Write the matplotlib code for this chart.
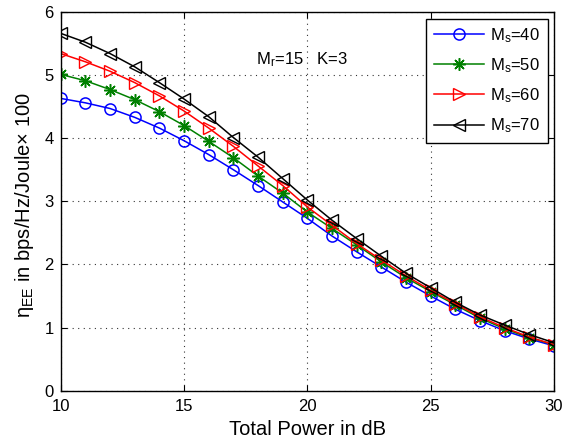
import matplotlib
matplotlib.use("Agg")
import matplotlib.pyplot as plt

plt.rcParams['font.family'] = ['Liberation Sans', 'DejaVu Sans']
plt.rcParams['mathtext.fontset'] = 'custom'
plt.rcParams['mathtext.rm'] = 'Liberation Sans'
plt.rcParams['mathtext.it'] = 'Liberation Sans'

power_db = list(range(10, 31))
ee_ms40 = [4.63, 4.56, 4.47, 4.33, 4.16, 3.96, 3.74, 3.50, 3.25, 2.99, 2.73,
           2.45, 2.20, 1.96, 1.72, 1.50, 1.29, 1.11, 0.95, 0.82, 0.71]
ee_ms50 = [5.01, 4.91, 4.77, 4.61, 4.42, 4.20, 3.95, 3.69, 3.40, 3.13, 2.83,
           2.57, 2.31, 2.04, 1.79, 1.57, 1.36, 1.15, 0.98, 0.84, 0.73]
ee_ms60 = [5.34, 5.21, 5.06, 4.88, 4.67, 4.43, 4.16, 3.87, 3.56, 3.25, 2.91,
           2.62, 2.33, 2.07, 1.82, 1.59, 1.38, 1.17, 1.00, 0.85, 0.73]
ee_ms70 = [5.66, 5.52, 5.34, 5.13, 4.88, 4.62, 4.34, 4.01, 3.70, 3.36, 3.02,
           2.70, 2.41, 2.13, 1.86, 1.63, 1.40, 1.20, 1.04, 0.89, 0.76]
labels = ['$\\mathregular{M_s}$=40', '$\\mathregular{M_s}$=50',
          '$\\mathregular{M_s}$=60', '$\\mathregular{M_s}$=70']

fig = plt.figure(figsize=(5.63, 4.42), dpi=100)
ax = fig.add_axes([0.108, 0.116, 0.876, 0.857])

ax.plot(power_db, ee_ms40, color='#0000ff', marker='o', mfc='none', ms=8, lw=1.1, mew=1.1, label=labels[0])
ax.plot(power_db, ee_ms50, color='#008000', marker=(8, 2, 0), mfc='none', ms=9, lw=1.1, mew=1.1, label=labels[1])
ax.plot(power_db, ee_ms60, color='#ff0000', marker='>', mfc='none', ms=8, lw=1.1, mew=1.0, label=labels[2])
ax.plot(power_db, ee_ms70, color='black', marker='<', mfc='none', ms=8, lw=1.1, mew=1.0, label=labels[3])

ax.set_xlim(10, 30)
ax.set_ylim(0, 6)
ax.set_xticks([10, 15, 20, 25, 30])
ax.set_yticks([0, 1, 2, 3, 4, 5, 6])
ax.grid(True, linestyle=(0, (1, 4)), color='black', linewidth=0.8, alpha=0.8)
ax.tick_params(direction='in', top=True, right=True, labelsize=12, length=4)
ax.tick_params(axis='x', pad=6)
ax.tick_params(axis='y', pad=5)
for s in ax.spines.values():
    s.set_linewidth(1.0)

ax.set_xlabel('Total Power in dB', fontsize=14.5)
ax.set_ylabel('$\\mathregular{\\eta_{EE}}$ in bps/Hz/Joule\u00d7 100', fontsize=14.5)
ax.xaxis.set_label_coords(0.5, -0.078)
ax.yaxis.set_label_coords(-0.05, 0.49)

ax.text(17.9, 5.17, '$\\mathregular{M_r}$=15   K=3', fontsize=12)

leg = ax.legend(loc='upper right', fontsize=12, fancybox=False, edgecolor='black',
                framealpha=1, handlelength=3.0, handletextpad=0.4, borderpad=0.45,
                labelspacing=0.68, borderaxespad=0, bbox_to_anchor=(0.987, 0.982))
leg.get_frame().set_linewidth(1.0)

fig.savefig('out.png', dpi=100)
